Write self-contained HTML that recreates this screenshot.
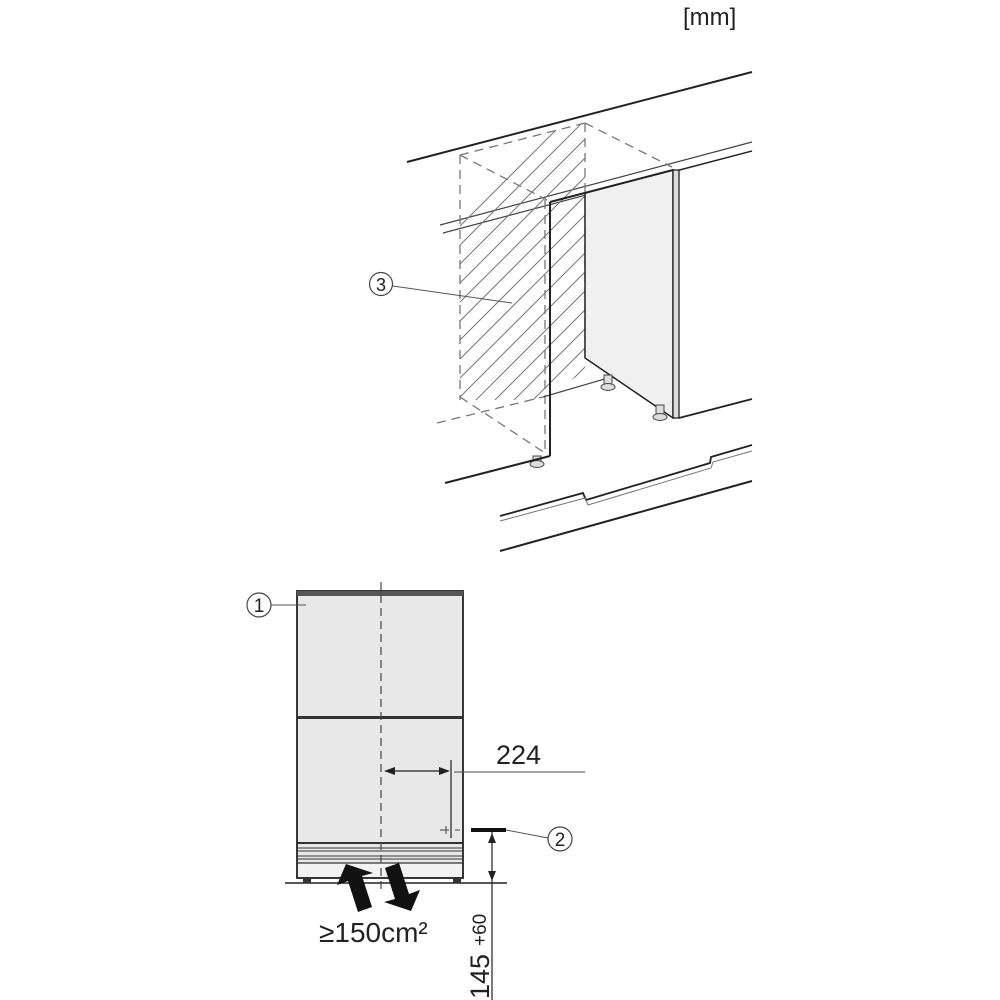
<!DOCTYPE html>
<html><head><meta charset="utf-8"><style>
html,body{margin:0;padding:0;background:#fff;}
svg{display:block;}
text{font-family:"Liberation Sans",sans-serif;fill:#222;}
</style></head><body>
<svg width="1000" height="1000" viewBox="0 0 1000 1000" xmlns="http://www.w3.org/2000/svg">
<defs>
<clipPath id="hc"><polygon points="460,155 585,123 585,372 550,392 550,400 460,400"/></clipPath>
</defs>
<text x="683" y="25" font-size="24">[mm]</text>

<line x1="407" y1="162" x2="752" y2="72" stroke="#222" stroke-width="2"/>
<line x1="440" y1="225" x2="752" y2="142" stroke="#444" stroke-width="1.2"/>
<line x1="443" y1="233" x2="752" y2="151" stroke="#444" stroke-width="1.2"/>

<g clip-path="url(#hc)" stroke="#777" stroke-width="1">
<path d="M300,500 L700,100 M319,500 L719,100 M338,500 L738,100 M357,500 L757,100 M376,500 L776,100 M395,500 L795,100 M414,500 L814,100 M433,500 L833,100 M452,500 L852,100 M471,500 L871,100 M490,500 L890,100 M509,500 L909,100 M528,500 L928,100 M547,500 L947,100 M281,500 L681,100 M262,500 L662,100 M243,500 L643,100 M224,500 L624,100 M205,500 L605,100 M186,500 L586,100"/>
</g>

<g stroke="#777" stroke-width="1.3" stroke-dasharray="9,6" fill="none">
<line x1="460" y1="155" x2="460" y2="400"/>
<line x1="460" y1="155" x2="585" y2="123"/>
<line x1="585" y1="123" x2="672" y2="167"/>
<line x1="585" y1="123" x2="585" y2="360"/>
<line x1="460" y1="155" x2="547" y2="200"/>
<line x1="545" y1="200" x2="545" y2="455"/>
<line x1="460" y1="397" x2="545" y2="453"/>
<line x1="437" y1="423" x2="543" y2="397"/>
</g>
<line x1="543" y1="397" x2="608" y2="378" stroke="#444" stroke-width="1.2"/>

<polygon points="585,193 673,170 673,418 585,358" fill="#f0f0f0" stroke="#222" stroke-width="1.5"/>
<line x1="550" y1="202" x2="673" y2="170" stroke="#222" stroke-width="2"/>
<rect x="673" y="170" width="6" height="248" fill="#ddd" stroke="#222" stroke-width="1.3"/>
<line x1="679" y1="418" x2="752" y2="399" stroke="#222" stroke-width="1.8"/>
<line x1="679" y1="170" x2="752" y2="151" stroke="#222" stroke-width="1.3"/>
<line x1="550" y1="202" x2="550" y2="456" stroke="#222" stroke-width="2"/>

<g fill="#ddd" stroke="#444" stroke-width="1">
<rect x="604" y="375" width="8" height="10"/><ellipse cx="608" cy="387" rx="7" ry="3.5"/>
<rect x="656" y="405" width="8" height="10"/><ellipse cx="660" cy="417" rx="7" ry="3.5"/>
<rect x="533" y="456" width="8" height="6"/><ellipse cx="537" cy="464" rx="7" ry="3.5"/>
</g>

<line x1="445" y1="483" x2="550" y2="456" stroke="#222" stroke-width="2"/>
<polyline points="500,516 583,493 586,500 710,463 711,457 752,445" fill="none" stroke="#222" stroke-width="1.8"/>
<polyline points="500,521 585,498 588,505 711,468 713,462 752,451" fill="none" stroke="#777" stroke-width="1"/>
<line x1="500" y1="551" x2="752" y2="481" stroke="#222" stroke-width="2"/>

<circle cx="381" cy="284" r="11.5" fill="#fff" stroke="#444" stroke-width="1.2"/>
<text x="381" y="291" font-size="18" text-anchor="middle">3</text>
<line x1="393" y1="286" x2="512" y2="303" stroke="#555" stroke-width="1"/>

<rect x="297" y="591" width="166" height="287" fill="#e8e8e8" stroke="#222" stroke-width="1.8"/>
<rect x="297" y="591" width="166" height="5" fill="#555"/>
<rect x="297" y="716" width="166" height="3" fill="#333"/>
<rect x="298" y="863" width="164" height="14" fill="#f2f2f2"/>
<g stroke="#333">
<line x1="297" y1="843" x2="463" y2="843" stroke-width="2"/>
<line x1="297" y1="848" x2="463" y2="848" stroke-width="1"/>
<line x1="297" y1="851" x2="463" y2="851" stroke-width="1"/>
<line x1="297" y1="856" x2="463" y2="856" stroke-width="1"/>
<line x1="297" y1="859" x2="463" y2="859" stroke-width="1"/>
<line x1="297" y1="863" x2="463" y2="863" stroke-width="1.3"/>
</g>
<line x1="285" y1="883" x2="507" y2="883" stroke="#222" stroke-width="1.5"/>
<rect x="303" y="878" width="8" height="5" fill="#333"/>
<rect x="453" y="878" width="8" height="5" fill="#333"/>
<line x1="381" y1="582" x2="381" y2="892" stroke="#444" stroke-width="1.2" stroke-dasharray="8,5"/>

<circle cx="259" cy="605" r="12" fill="#fff" stroke="#444" stroke-width="1.2"/>
<text x="259" y="612" font-size="19" text-anchor="middle">1</text>
<line x1="271" y1="605" x2="306" y2="605" stroke="#555" stroke-width="1"/>

<line x1="386" y1="771" x2="448" y2="771" stroke="#222" stroke-width="1.2"/>
<polygon points="384,771 395,767 395,775" fill="#222"/>
<polygon points="450,771 439,767 439,775" fill="#222"/>
<line x1="451" y1="760" x2="451" y2="838" stroke="#222" stroke-width="1.2"/>
<line x1="454" y1="772" x2="585" y2="772" stroke="#444" stroke-width="1"/>
<text x="496" y="764" font-size="27">224</text>
<g stroke="#444" stroke-width="1"><line x1="440" y1="830" x2="449" y2="830"/><line x1="446" y1="826" x2="446" y2="834"/><line x1="455" y1="830" x2="460" y2="830"/></g>

<rect x="471" y="828" width="35" height="4" fill="#111"/>
<line x1="506" y1="830" x2="548" y2="838" stroke="#555" stroke-width="1"/>
<circle cx="560" cy="839" r="12" fill="#fff" stroke="#444" stroke-width="1.2"/>
<text x="560" y="846" font-size="19" text-anchor="middle">2</text>

<line x1="492" y1="832" x2="492" y2="1000" stroke="#222" stroke-width="1.2"/>
<polygon points="492,833 488,843 496,843" fill="#222"/>
<polygon points="492,881 488,871 496,871" fill="#222"/>
<text transform="translate(489,999) rotate(-90)" font-size="27">145</text>
<text transform="translate(486,946) rotate(-90)" font-size="19">+60</text>

<polygon points="346,864 337,885 348,881 358,912 372,907 362,876 373,873" fill="#111"/>
<polygon points="411,911 420,890 409,894 399,863 385,868 395,899 384,902" fill="#111"/>
<text x="319" y="942" font-size="28">≥150cm²</text>
</svg>
</body></html>
